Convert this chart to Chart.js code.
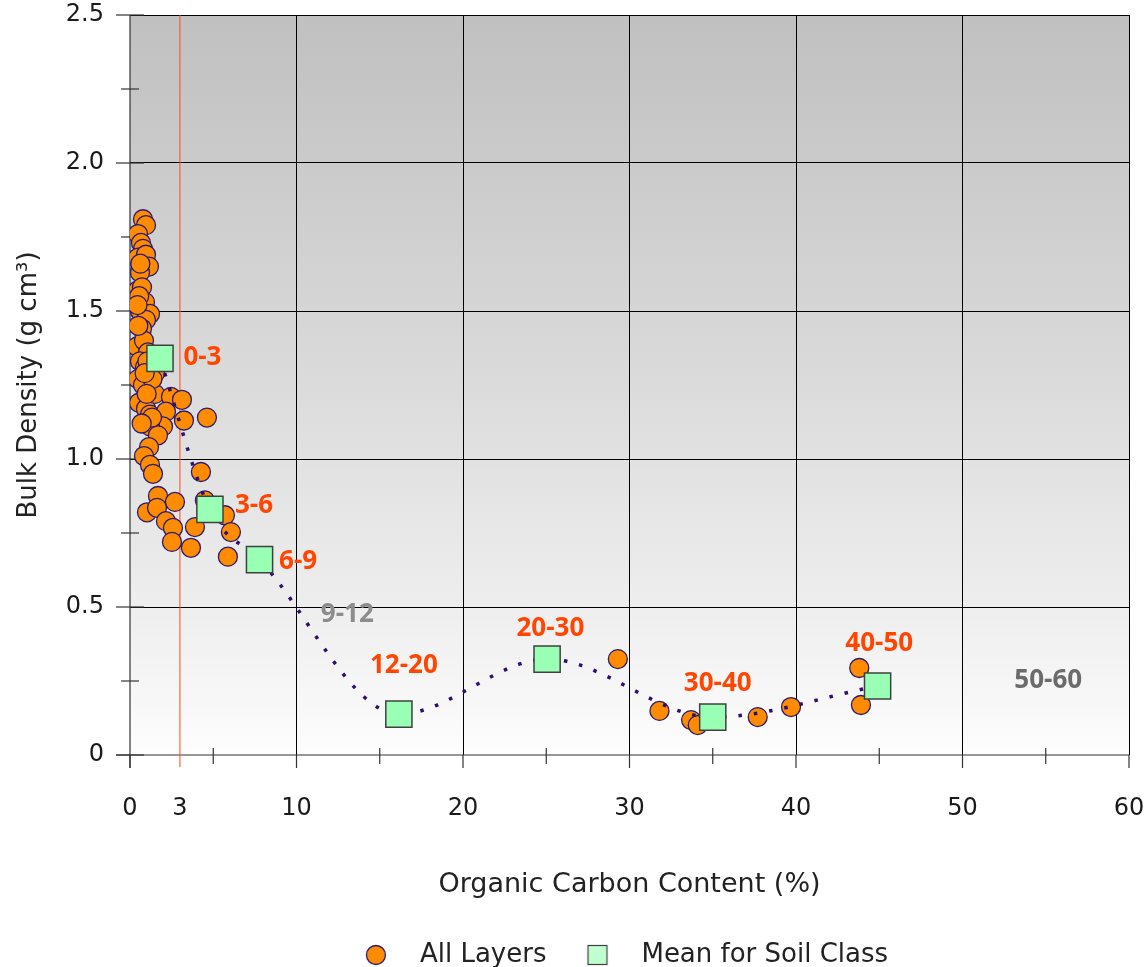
<!DOCTYPE html>
<html><head><meta charset="utf-8">
<script src="https://cdn.jsdelivr.net/npm/chart.js@4.4.1/dist/chart.umd.min.js"></script>
<style>html,body{margin:0;padding:0;background:#fff;overflow:hidden}canvas{display:block}</style>
</head><body>
<canvas id="c" width="1145" height="978"></canvas>
<script>
// ---- data ----
const layerOC = [0.78,0.96,0.48,0.66,0.78,0.48,0.96,1.14,0.6,0.48,0.72,0.9,0.6,1.2,0.96,0.72,0.42,0.84,1.08,0.6,0.9,0.48,0.78,1.5,0.54,0.96,1.2,1.5,2.46,3.12,2.16,1.98,1.2,3.24,4.62,1.68,1.14,0.84,1.2,1.38,4.26,1.68,2.7,4.5,1.02,1.62,5.7,6.06,2.16,3.9,2.58,2.52,3.66,5.88,1.32,1.35,0.5,1.0,0.7,0.55,0.62,0.45,1.05,0.88,
  29.3,31.8,33.7,34.1,37.7,39.7,43.8,43.9];
const layerBD = [1.81,1.79,1.76,1.73,1.71,1.68,1.69,1.65,1.63,1.57,1.58,1.53,1.50,1.49,1.47,1.44,1.38,1.40,1.36,1.33,1.31,1.27,1.25,1.29,1.19,1.17,1.15,1.22,1.21,1.20,1.16,1.11,1.11,1.13,1.14,1.08,1.04,1.01,0.98,0.95,0.956,0.875,0.855,0.86,0.82,0.835,0.81,0.753,0.79,0.77,0.767,0.72,0.70,0.67,1.14,1.27,1.45,1.22,1.12,1.55,1.66,1.52,1.33,1.29,
  0.324,0.149,0.118,0.101,0.128,0.162,0.294,0.169];
const meanOC = [1.8,4.8,7.78,16.15,25.05,35.0,44.9];
const meanBD = [1.34,0.83,0.66,0.138,0.324,0.128,0.233];
const classNames = ['0-3','3-6','6-9','9-12','12-20','20-30','30-40','40-50','50-60'];
const classHasMean = [true,true,true,false,true,true,true,true,false];
const classLabelOC = [4.35,7.45,10.1,13.05,16.45,25.25,35.3,45.0,55.15];
const classLabelBD = [1.341,0.841,0.655,0.476,0.301,0.426,0.240,0.375,0.253];
const xTickValues = [0,3,5,10,15,20,25,30,35,40,45,50,55,60];
const xLabelValues = [0,3,10,20,30,40,50,60];
const xGridValues = [10,20,30,40,50,60];
const yTickValues = [0,0.25,0.5,0.75,1,1.25,1.5,1.75,2,2.25,2.5];
const yLabelValues = [0,0.5,1,1.5,2,2.5];
const limitLineOC = 3;

const FONT = "'DejaVu Sans', sans-serif";
const LABEL_FONT = "'Open Sans', 'DejaVu Sans', sans-serif";
const near = (a,b)=>Math.abs(a-b)<1e-6;
const inList = (v,list)=>list.some(w=>near(v,w));

function makeIcon(kind){
  const c=document.createElement('canvas'); c.width=24; c.height=24;
  const g=c.getContext('2d');
  if(kind==='circle'){
    g.beginPath(); g.arc(12,12,9.5,0,Math.PI*2);
    g.fillStyle='#ff8c00'; g.fill(); g.lineWidth=1.3; g.strokeStyle='#2b1b73'; g.stroke();
  } else {
    g.fillStyle='#bfffd0'; g.fillRect(2,2,20,20);
    g.lineWidth=1.2; g.strokeStyle='#404040'; g.strokeRect(2.5,2.5,19,19);
  }
  return c;
}
const circleIcon=makeIcon('circle'), squareIcon=makeIcon('square');

const bgPlugin={
  id:'bg',
  afterLayout(chart){
    if(chart.legend){chart.legend.left-=13;chart.legend.right-=13;}
  },
  beforeDraw(chart){
    const {ctx,chartArea:a}=chart;
    const g=ctx.createLinearGradient(0,a.top,0,a.bottom);
    g.addColorStop(0,'#c1c0c0'); g.addColorStop(0.45,'#d8d8d8');
    g.addColorStop(0.8,'#eeeeee'); g.addColorStop(1,'#fdfdfd');
    ctx.save(); ctx.fillStyle=g; ctx.fillRect(a.left,a.top,a.right-a.left,a.bottom-a.top); ctx.restore();
  },
  beforeDatasetsDraw(chart){
    const {ctx,chartArea:a,scales:{x,y}}=chart;
    ctx.save();
    ctx.strokeStyle='#333'; ctx.lineWidth=1.2;
    const x0=x.getPixelForValue(0), y0=y.getPixelForValue(0);
    ctx.beginPath(); ctx.moveTo(x0,a.top); ctx.lineTo(x0,y0+13); ctx.stroke();
    ctx.beginPath(); ctx.moveTo(x0-14,y0); ctx.lineTo(a.right,y0); ctx.stroke();
    yTickValues.forEach(v=>{
      const py=y.getPixelForValue(v);
      const major=inList(v,yLabelValues);
      ctx.beginPath();
      if(major){ctx.moveTo(x0-14,py);ctx.lineTo(x0+14,py);} else {ctx.moveTo(x0-9,py);ctx.lineTo(x0+9,py);}
      ctx.stroke();
    });
    xTickValues.forEach(v=>{
      if(near(v,limitLineOC)) return;
      const px=x.getPixelForValue(v);
      const major=inList(v,xGridValues)||near(v,0);
      ctx.beginPath();
      if(major){ctx.moveTo(px,y0);ctx.lineTo(px,y0+13);} else {ctx.moveTo(px,y0-7);ctx.lineTo(px,y0+9);}
      ctx.stroke();
    });
    const lx=x.getPixelForValue(limitLineOC);
    ctx.strokeStyle='#ff4a1a'; ctx.lineWidth=1;
    ctx.beginPath(); ctx.moveTo(lx,a.top); ctx.lineTo(lx,y0+12); ctx.stroke();
    ctx.restore();
  },
  afterDatasetsDraw(chart){
    const {ctx,scales:{x,y}}=chart;
    ctx.save();
    ctx.font="bold 26px "+LABEL_FONT; ctx.textAlign='center'; ctx.textBaseline='middle';
    classNames.forEach((n,i)=>{
      ctx.fillStyle = classHasMean[i] ? '#ff4500' : (i===3 ? '#8c8c8c' : '#6b6b6b');
      ctx.fillText(n, x.getPixelForValue(classLabelOC[i]), y.getPixelForValue(classLabelBD[i]));
    });
    ctx.restore();
  }
};

const layerPoints = layerOC.map((v,i)=>({x:v,y:layerBD[i]}));
const meanPoints = meanOC.map((v,i)=>({x:v,y:meanBD[i]}));

new Chart(document.getElementById('c'),{
  type:'scatter',
  data:{datasets:[
    {label:'All Layers',data:layerPoints,order:2,
     pointStyle:'circle',pointRadius:9.5,pointHoverRadius:9.5,
     backgroundColor:'#ff8c00',borderColor:'#2b1b73',borderWidth:1.3},
    {label:'Mean for Soil Class',data:meanPoints,order:1,showLine:true,
     cubicInterpolationMode:'monotone',
     borderColor:'#2e0f6e',borderWidth:3.5,borderDash:[3.5,12],
     pointStyle:'rect',pointRadius:18.5,pointHoverRadius:18.5,
     pointBackgroundColor:'#99ffb4',pointBorderColor:'#404040',pointBorderWidth:1.5,
     backgroundColor:'#99ffb4'}
  ]},
  options:{
    responsive:false,animation:false,
    layout:{autoPadding:false,padding:{top:15,right:16,left:0,bottom:0}},
    plugins:{
      tooltip:{enabled:false},
      legend:{position:'bottom',fullSize:false,
        labels:{usePointStyle:true,pointStyleWidth:62,padding:20,color:'#222',
          font:{family:FONT,size:26},
          generateLabels:()=>[
            {text:'All Layers',pointStyle:circleIcon,fillStyle:'#ff8c00',strokeStyle:'#2b1b73',lineWidth:0,hidden:false,datasetIndex:0,fontColor:'#222'},
            {text:'Mean for Soil Class',pointStyle:squareIcon,fillStyle:'#bfffd0',strokeStyle:'#404040',lineWidth:0,hidden:false,datasetIndex:1,fontColor:'#222'}
          ]}}
    },
    scales:{
      x:{type:'linear',min:0,max:60,
        afterBuildTicks:s=>{s.ticks=xTickValues.map(v=>({value:v}));},
        afterFit:s=>{s.height=167;s.paddingLeft=0;s.paddingRight=0;},
        ticks:{autoSkip:false,maxRotation:0,padding:39,color:'#1a1a1a',font:{family:FONT,size:24},
          callback:v=>inList(v,xLabelValues)?String(v):''},
        grid:{drawTicks:false,color:c=>(c.tick&&inList(c.tick.value,xGridValues))?'#000':'rgba(0,0,0,0)',lineWidth:1},
        border:{display:false},
        title:{display:true,text:'Organic Carbon Content (%)',color:'#222',font:{family:FONT,size:27},padding:{top:0,bottom:21}}
      },
      y:{type:'linear',min:0,max:2.5,
        afterBuildTicks:s=>{s.ticks=yTickValues.map(v=>({value:v}));},
        afterFit:s=>{s.width=130;s.paddingTop=0;s.paddingBottom=0;},
        ticks:{autoSkip:false,padding:26,color:'#1a1a1a',font:{family:FONT,size:24},
          callback:v=>inList(v,yLabelValues)?(near(v,0)?'0':v.toFixed(1)):''},
        grid:{drawTicks:false,color:c=>(c.tick&&inList(c.tick.value,yLabelValues)&&!near(c.tick.value,0))?'#000':'rgba(0,0,0,0)',lineWidth:1},
        border:{display:false},
        title:{display:true,text:'Bulk Density (g cm³)',color:'#222',font:{family:FONT,size:26},padding:{top:14,bottom:0}}
      }
    }
  },
  plugins:[bgPlugin]
});
</script>
</body></html>
